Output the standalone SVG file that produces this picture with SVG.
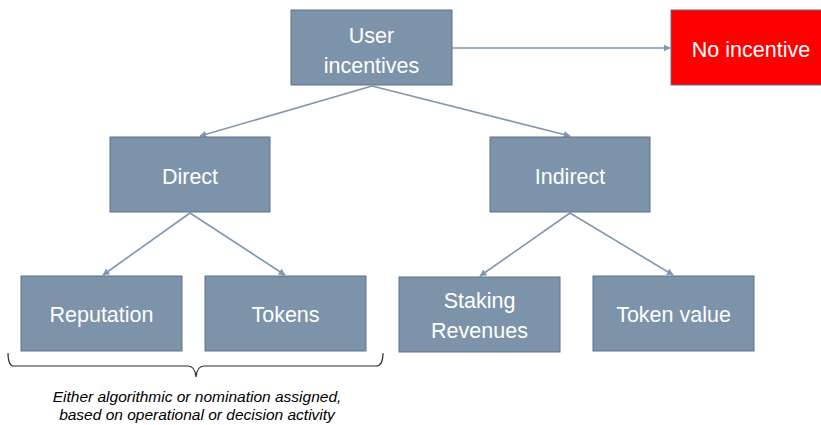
<svg xmlns="http://www.w3.org/2000/svg" width="821" height="425" viewBox="0 0 821 425">
<defs>
<style>
.box{fill:#7c93aa;stroke:#5c738c;stroke-width:1}
.t{font-family:"Liberation Sans",Arial,sans-serif;font-size:21.5px;fill:#ffffff;text-anchor:middle}
.c{stroke:#7f98b1;stroke-width:1.6;fill:none;marker-end:url(#ah)}
.n{font-family:"Liberation Sans",Arial,sans-serif;font-size:15.5px;font-style:italic;fill:#000;text-anchor:middle}
</style>
<marker id="ah" viewBox="0 0 10 10" refX="9" refY="5" markerWidth="7" markerHeight="7" markerUnits="userSpaceOnUse" orient="auto">
<path d="M0,0 L10,5 L0,10 z" fill="#7f98b1"/>
</marker>
</defs>
<rect width="821" height="425" fill="#ffffff"/>
<g id="connectors">
<line class="c" x1="452" y1="48" x2="670" y2="48"/>
<line class="c" x1="372" y1="86" x2="200" y2="136"/>
<line class="c" x1="372" y1="86" x2="570" y2="136"/>
<line class="c" x1="190" y1="213" x2="103" y2="275"/>
<line class="c" x1="190" y1="213" x2="285" y2="275"/>
<line class="c" x1="570" y1="213" x2="480" y2="276"/>
<line class="c" x1="570" y1="213" x2="673" y2="275"/>
</g>
<g id="user">
<rect class="box" x="291" y="10" width="161" height="75"/>
<text class="t" x="371.5" y="43">User</text>
<text class="t" x="371.5" y="73">incentives</text>
</g>
<g id="noinc">
<rect x="671" y="10" width="152" height="75" fill="#ff0000" stroke="#5c738c" stroke-width="1"/>
<text class="t" x="751" y="57">No incentive</text>
</g>
<g id="direct">
<rect class="box" x="110" y="137" width="160" height="75"/>
<text class="t" x="190" y="184">Direct</text>
</g>
<g id="indirect">
<rect class="box" x="490" y="137" width="160" height="75"/>
<text class="t" x="570" y="184">Indirect</text>
</g>
<g id="reputation">
<rect class="box" x="21" y="276" width="161" height="75"/>
<text class="t" x="101.5" y="322">Reputation</text>
</g>
<g id="tokens">
<rect class="box" x="205" y="276" width="161" height="75"/>
<text class="t" x="285.5" y="322">Tokens</text>
</g>
<g id="staking">
<rect class="box" x="399" y="277" width="161" height="75"/>
<text class="t" x="479.5" y="308">Staking</text>
<text class="t" x="479.5" y="338">Revenues</text>
</g>
<g id="tokenvalue">
<rect class="box" x="593" y="276" width="161" height="75"/>
<text class="t" x="673.5" y="322">Token value</text>
</g>
<g id="note">
<path d="M8,353 Q8,366 14,366 L188,366 Q195,366 196,377 Q197,366 204,366 L376,366 Q383,366 383,353" fill="none" stroke="#333" stroke-width="1.2"/>
<text class="n" x="197" y="402">Either algorithmic or nomination assigned,</text>
<text class="n" x="197" y="420">based on operational or decision activity</text>
</g>
</svg>
